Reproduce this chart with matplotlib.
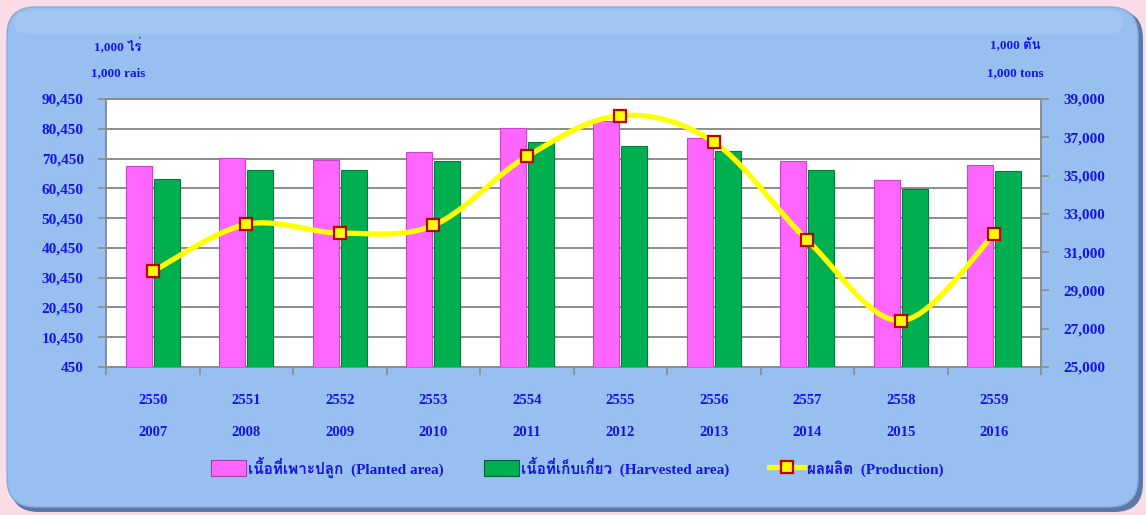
import numpy as np
import matplotlib
matplotlib.use("Agg")
import matplotlib.pyplot as plt
from matplotlib import font_manager
from matplotlib.patches import FancyBboxPatch, Rectangle
from matplotlib.lines import Line2D

# ---------------- data ----------------
years_be = ["2550", "2551", "2552", "2553", "2554", "2555", "2556", "2557", "2558", "2559"]
years_ad = ["2007", "2008", "2009", "2010", "2011", "2012", "2013", "2014", "2015", "2016"]
planted = [67800, 70600, 69800, 72800, 80700, 82900, 77300, 69500, 63300, 68300]
harvested = [63500, 66700, 66700, 69500, 75900, 74800, 73100, 66700, 60200, 66400]
production = [30000, 32450, 32000, 32400, 36000, 38130, 36750, 31630, 27420, 31950]
left_ticks = [450, 10450, 20450, 30450, 40450, 50450, 60450, 70450, 80450, 90450]
right_ticks = [25000, 27000, 29000, 31000, 33000, 35000, 37000, 39000]
legend_labels = ["เนื้อที่เพาะปลูก  (Planted area)", "เนื้อที่เก็บเกี่ยว  (Harvested area)", "ผลผลิต  (Production)"]

# ---------------- fonts ----------------
def find_thai():
    try:
        from matplotlib.ft2font import FT2Font
    except Exception:
        return None
    for f in font_manager.fontManager.ttflist:
        try:
            ft = FT2Font(f.fname)
            if ft.get_char_index(0x0E40) and ft.get_char_index(0x0E1C):
                return f.name
        except Exception:
            pass
    return None

thai = find_thai()
fam = ["Liberation Serif"] + ([thai] if thai else []) + ["DejaVu Sans"]
plt.rcParams["font.family"] = fam
BLUE = "#1414E6"

W, H = 1146, 515
fig = plt.figure(figsize=(W / 100, H / 100), dpi=100)
fig.patch.set_facecolor("#F9DCE6")

def fx(x): return x / W
def fy(y): return 1 - y / H

# panel shadow + panel
shadow = FancyBboxPatch((fx(10), fy(512)), fx(1133), fy(10) - fy(512),
                        boxstyle="round,pad=0,rounding_size=0.025", transform=fig.transFigure,
                        facecolor="#5A78A8", edgecolor="none", zorder=0, mutation_aspect=W / H)
fig.patches.append(shadow)
panel = FancyBboxPatch((fx(7), fy(507)), fx(1131), fy(7) - fy(507),
                       boxstyle="round,pad=0,rounding_size=0.025", transform=fig.transFigure,
                       facecolor="#97BFF0", edgecolor="#86AADC", linewidth=1.0, zorder=0,
                       mutation_aspect=W / H)
fig.patches.append(panel)
hl = FancyBboxPatch((fx(14), fy(34)), fx(1110), fy(11) - fy(34),
                    boxstyle="round,pad=0,rounding_size=0.012", transform=fig.transFigure,
                    facecolor="#B5D4F7", edgecolor="none", zorder=0, alpha=0.35, mutation_aspect=W / H)
fig.patches.append(hl)

# axes
L, R, T, B = 106, 1041, 99, 367
ax = fig.add_axes([fx(L), fy(B), fx(R - L), fy(T) - fy(B)])
ax.set_facecolor("white")
ax.set_zorder(2)

n = len(years_be)
x = np.arange(n)
bw = 0.28
off = 0.15
ax.bar(x - off, planted, width=bw, color="#FF66FF", edgecolor="#C845C8", linewidth=0.8, zorder=3)
ax.bar(x + off, harvested, width=bw, color="#00B050", edgecolor="#00793A", linewidth=0.8, zorder=3)
ax.set_xlim(-0.5, n - 0.5)
ax.set_ylim(450, 90450)
ax.set_yticks(left_ticks)
ax.set_yticklabels([f"{v:,}" for v in left_ticks])
ax.yaxis.grid(True, color="#8C8C8C", linewidth=1.4, zorder=1)
ax.set_axisbelow(True)
ax.set_xticks(np.arange(n + 1) - 0.5)
ax.set_xticklabels([])
for s in ax.spines.values():
    s.set_color("#8C8C8C")
    s.set_linewidth(1.4)
ax.tick_params(axis="both", colors="#8C8C8C", length=6, width=1.2)
ax.tick_params(axis="y", labelcolor=BLUE, labelsize=11, pad=10)
for lab in ax.get_yticklabels():
    lab.set_fontweight("bold")

# secondary axis
ax2 = ax.twinx()
ax2.set_ylim(25000, 39000)
ax2.set_yticks(right_ticks)
ax2.set_yticklabels([f"{v:,}" for v in right_ticks])
for s in ax2.spines.values():
    s.set_visible(False)
ax2.tick_params(axis="y", colors="#8C8C8C", length=6, width=1.2, labelcolor=BLUE, labelsize=11, pad=10)
for lab in ax2.get_yticklabels():
    lab.set_fontweight("bold")

# smooth line (Catmull-Rom / Bezier through the data points)
px = x.astype(float)
py = np.array(production, dtype=float)
ext_x = np.concatenate([[px[0]], px, [px[-1]]])
ext_y = np.concatenate([[py[0]], py, [py[-1]]])
cx, cy = [], []
t = np.linspace(0, 1, 40)
for i in range(1, len(ext_x) - 2):
    p0, p1, p2, p3 = [np.array([ext_x[j], ext_y[j]]) for j in (i - 1, i, i + 1, i + 2)]
    c1 = p1 + (p2 - p0) / 6
    c2 = p2 - (p3 - p1) / 6
    pts = ((1 - t) ** 3)[:, None] * p1 + (3 * (1 - t) ** 2 * t)[:, None] * c1 + \
          (3 * (1 - t) * t ** 2)[:, None] * c2 + (t ** 3)[:, None] * p2
    cx.extend(pts[:, 0]); cy.extend(pts[:, 1])
ax2.plot(cx, cy, color="#FFFF00", linewidth=3.8, zorder=4, solid_capstyle="round")
ax2.plot(px, py, linestyle="none", marker="s", markersize=8, markerfacecolor="#FFFF00",
         markeredgecolor="#C00000", markeredgewidth=1.6, zorder=5)

# x labels (two rows)
for i in range(n):
    xf = fx(L + (R - L) * (i + 0.5) / n)
    fig.text(xf, fy(400), years_be[i], ha="center", va="center", color=BLUE,
             fontsize=10.5, fontweight="bold")
    fig.text(xf, fy(433), years_ad[i], ha="center", va="center", color=BLUE,
             fontsize=10.5, fontweight="bold")

# unit labels
fig.text(fx(118), fy(45), "1,000 ไร่", ha="center", va="center", color=BLUE, fontsize=9.5, fontweight="bold")
fig.text(fx(118), fy(73), "1,000 rais", ha="center", va="center", color=BLUE, fontsize=9.5, fontweight="bold")
fig.text(fx(1015), fy(44), "1,000 ตัน", ha="center", va="center", color=BLUE, fontsize=9.5, fontweight="bold")
fig.text(fx(1015), fy(73), "1,000 tons", ha="center", va="center", color=BLUE, fontsize=9.5, fontweight="bold")

# legend
handles = [
    Rectangle((0, 0), 1, 1, facecolor="#FF66FF", edgecolor="#A040A0", linewidth=0.8),
    Rectangle((0, 0), 1, 1, facecolor="#00B050", edgecolor="#00603A", linewidth=0.8),
    Line2D([0], [0], color="#FFFF00", linewidth=3.8, marker="s", markersize=8,
           markerfacecolor="#FFFF00", markeredgecolor="#C00000", markeredgewidth=1.6),
]
leg = fig.legend(handles, legend_labels, loc="center", bbox_to_anchor=(fx(577), fy(467)),
                 ncol=3, frameon=False, handlelength=2.3, handleheight=1.2, handletextpad=0.15,
                 columnspacing=2.6, prop={"weight": "bold", "size": 11})
for tx in leg.get_texts():
    tx.set_color(BLUE)

fig.savefig("out.png", dpi=100, facecolor=fig.get_facecolor())
